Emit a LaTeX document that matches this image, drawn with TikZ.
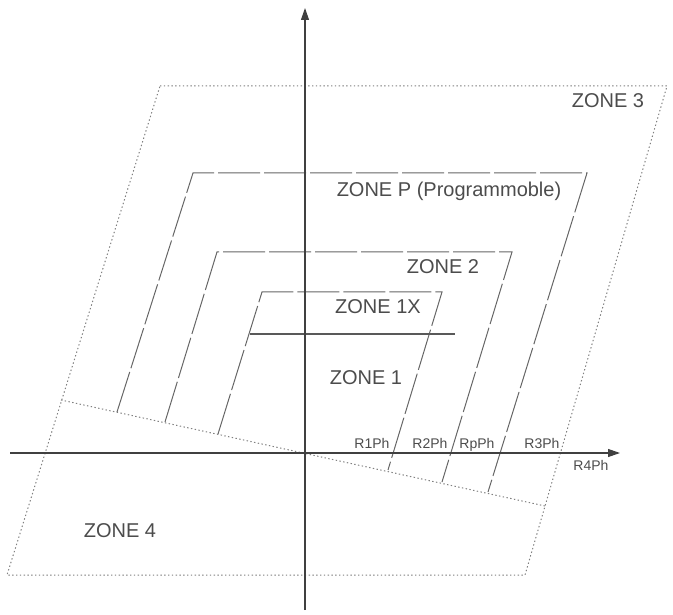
\documentclass[tikz,border=0pt]{standalone}
\usepackage{fontspec}
\setmainfont{Liberation Sans}
\usetikzlibrary{arrows.meta}

\begin{document}
\begin{tikzpicture}[
  x=1pt, y=-1pt,
  >={Triangle[length=12pt,width=8pt]},
  every node/.style={text=black!70, inner sep=0pt, anchor=base},
  big/.style={font=\fontsize{20}{24}\selectfont},
  small/.style={font=\fontsize{14}{16}\selectfont},
  axis/.style={->, draw=black!75, line width=1.1pt},
  zline/.style={draw=black!60, line width=1pt, dash pattern=on 42pt off 4pt},
  dotline/.style={draw=black!50, line width=1pt, dash pattern=on 1.4pt off 2.4pt},
]
  \useasboundingbox (0,0) rectangle (673,615);

  % zone 3 frame and zone 4 border
  \coordinate (tl) at (160,86);
  \coordinate (tr) at (667,86);
  \coordinate (br) at (525,575);
  \coordinate (bl) at (7,575);
  \coordinate (fl) at (61,400);
  \coordinate (fr) at (545,506);
  \draw[dotline] (tl) -- (tr) -- (br) -- (bl) -- cycle;
  \draw[dotline] (fl) -- (fr);

  % zones P, 2, 1X
  \coordinate (pbl) at (117,412);
  \coordinate (ptl) at (193,173);
  \coordinate (ptr) at (587,173);
  \coordinate (pbr) at (488,492);
  \coordinate (tbl) at (165,422);
  \coordinate (ttl) at (217,252);
  \coordinate (ttr) at (512,252);
  \coordinate (tbr) at (442,482);
  \coordinate (xbl) at (218,434);
  \coordinate (xtl) at (262,292);
  \coordinate (xtr) at (442,292);
  \coordinate (xbr) at (388,470);
  \draw[zline] (pbl) -- (ptl) -- (ptr) -- (pbr);
  \draw[zline] (tbl) -- (ttl) -- (ttr) -- (tbr);
  \draw[zline] (xbl) -- (xtl) -- (xtr) -- (xbr);
  \coordinate (ol) at (250,334);
  \coordinate (or) at (455,334);
  \draw[draw=black!65, line width=1.2pt] (ol) -- (or);

  % axes
  \coordinate (hx0) at (10,453);
  \coordinate (hx1) at (620,453);
  \coordinate (vy0) at (305,610);
  \coordinate (vy1) at (305,8);
  \draw[axis] (hx0) -- (hx1);
  \draw[axis] (vy0) -- (vy1);

  \node[big] (zthree) at (608,108) {ZONE 3};
  \node[big] (zp) at (449,197) {ZONE P (Programmoble)};
  \node[big] (ztwo) at (443,273) {ZONE 2};
  \node[big] (zonex) at (378,313) {ZONE 1X};
  \node[big] (zone) at (366,384) {ZONE 1};
  \node[big] (zfour) at (120,537) {ZONE 4};
  \node[small] (rone) at (372,448) {R1Ph};
  \node[small] (rtwo) at (430,448) {R2Ph};
  \node[small] (rp) at (477,448) {RpPh};
  \node[small] (rthree) at (542,448) {R3Ph};
  \node[small] (rfour) at (591,470) {R4Ph};
\end{tikzpicture}
\end{document}
